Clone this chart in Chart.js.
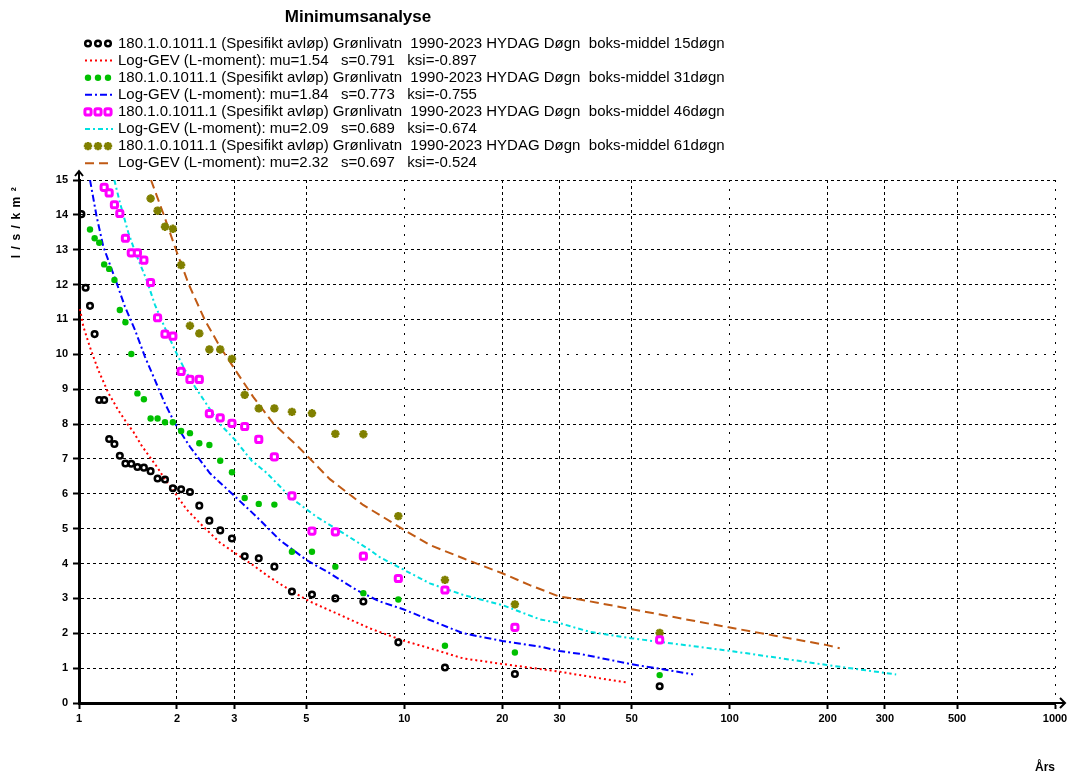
<!DOCTYPE html>
<html lang="no">
<head>
<meta charset="UTF-8">
<title>Minimumsanalyse</title>
<style>
  body { margin: 0; background: #fff; }
  #wrap { width: 1072px; height: 779px; }
</style>
</head>
<body>
<div id="wrap"><canvas id="chart" width="1072" height="779"></canvas></div>
<script src="https://cdn.jsdelivr.net/npm/chart.js"></script>
<script>
// returperiode (år) for de observerte minimumsverdiene, minst til størst
const returnPeriods = [1.017, 1.048, 1.081, 1.117, 1.154, 1.195, 1.238, 1.285, 1.335, 1.389, 1.448, 1.512,
  1.583, 1.660, 1.744, 1.838, 1.943, 2.060, 2.193, 2.343, 2.516, 2.717, 2.952, 3.231, 3.569, 3.986,
  4.513, 5.201, 6.137, 7.483, 9.584, 13.33, 21.87, 60.93];

// observerte verdier, l/s/km2 (null = utenfor figuren)
const obs15 = [14.02, 11.91, 11.39, 10.58, 8.69, 8.69, 7.57, 7.43, 7.09, 6.87, 6.86, 6.77, 6.75, 6.65,
  6.44, 6.41, 6.16, 6.13, 6.05, 5.66, 5.23, 4.95, 4.72, 4.21, 4.15, 3.91, 3.20, 3.11, 3.00, 2.91,
  1.74, 1.02, 0.83, 0.48];
const obs31 = [null, null, 13.58, 13.33, 13.20, 12.58, 12.45, 12.13, 11.27, 10.92, 10.01, 8.88, 8.71,
  8.16, 8.16, 8.05, 8.05, 7.80, 7.74, 7.45, 7.40, 6.95, 6.62, 5.88, 5.71, 5.69, 4.34, 4.34, 3.91,
  3.15, 2.97, 1.64, 1.45, 0.80];
const obs46 = [null, null, null, null, null, 14.79, 14.63, 14.29, 14.04, 13.33, 12.91, 12.91, 12.70,
  12.06, 11.05, 10.58, 10.52, 9.51, 9.28, 9.28, 8.30, 8.18, 8.02, 7.93, 7.56, 7.06, 5.94, 4.93, 4.91,
  4.21, 3.57, 3.24, 2.17, 1.81];
const obs61 = [null, null, null, null, null, null, null, null, null, null, null, null, null, 14.47,
  14.12, 13.66, 13.60, 12.56, 10.82, 10.60, 10.14, 10.14, 9.87, 8.84, 8.45, 8.45, 8.35, 8.31, 7.72,
  7.71, 5.36, 3.53, 2.83, 2.01];

// tilpassede Log-GEV kurver
const fit15T = [1.007, 1.031, 1.081, 1.146, 1.23, 1.32, 1.417, 1.469, 1.558, 1.752, 1.838, 1.927, 2.142,
  2.409, 2.712, 3.052, 3.431, 3.862, 4.448, 5.126, 6.19, 7.834, 9.92, 11.98, 15.16, 20, 30, 34.6, 48.2];
const fit15Q = [11.3, 10.8, 10.2, 9.55, 8.9, 8.4, 7.97, 7.78, 7.38, 6.72, 6.41, 6.16, 5.55,
  5.06, 4.6, 4.27, 3.95, 3.6, 3.24, 2.91, 2.57, 2.14, 1.79, 1.57, 1.28, 1.12, 0.90, 0.80, 0.59];

const fit31T = [1.081, 1.133, 1.188, 1.306, 1.384, 1.486, 1.595, 1.712, 1.837, 1.972, 2.193, 2.526,
  2.979, 3.516, 4.145, 5.006, 5.903, 7.13, 8.41, 9.92, 11.98, 15.16, 20, 26.7, 30, 34.6, 50, 59.5, 77.2];
const fit31Q = [15.0, 13.95, 13.09, 12.04, 11.37, 10.70, 9.93, 9.26, 8.59, 8.02, 7.35, 6.59,
  5.97, 5.34, 4.67, 4.10, 3.72, 3.24, 2.91, 2.69, 2.38, 2.00, 1.78, 1.60, 1.49, 1.41, 1.11, 1.00, 0.82];

const fit46T = [1.284, 1.336, 1.417, 1.486, 1.614, 1.712, 1.837, 1.972, 2.117, 2.272, 2.496, 2.712,
  3.016, 3.197, 3.394, 3.773, 4.503, 5.374, 6.486, 7.834, 8.41, 9.92, 11.98, 15.16, 20, 26.1, 30,
  37.2, 49.6, 99.3, 199, 325];
const fit46Q = [15.0, 14.35, 13.5, 12.95, 12.13, 11.42, 10.76, 10.12, 9.55, 9.07, 8.5, 8.0,
  7.55, 7.25, 6.95, 6.6, 5.87, 5.34, 4.87, 4.39, 4.18, 3.83, 3.43, 3.10, 2.81, 2.40, 2.29,
  2.04, 1.86, 1.50, 1.09, 0.82];

const fit61T = [1.664, 1.816, 1.982, 2.178, 2.438, 2.712, 2.979, 3.431, 3.954, 4.718, 5.903, 7.469,
  8.41, 9.92, 11.98, 15.16, 20, 24.3, 30, 34.6, 50, 99.3, 199, 217.9];
const fit61Q = [15.0, 14.04, 13.02, 11.99, 10.98, 10.22, 9.64, 8.78, 8.02, 7.35, 6.42, 5.68,
  5.39, 4.98, 4.53, 4.15, 3.72, 3.38, 3.05, 2.97, 2.69, 2.17, 1.66, 1.57];

const xTicks = [1, 2, 3, 5, 10, 20, 30, 50, 100, 200, 300, 500, 1000];
const yMax = 15;

const seriesName = '180.1.0.1011.1 (Spesifikt avløp) Grønlivatn  1990-2023 HYDAG Døgn  boks-middel ';
const fitName = (mu, s, ksi) => 'Log-GEV (L-moment): mu=' + mu + '   s=' + s + '   ksi=' + ksi;

function toPoints(xs, ys) {
  return xs.map((x, i) => ({ x: x, y: ys[i] })).filter(p => p.y !== null);
}

function obsSet(label, values, style, radius, border, color, fillColor) {
  return {
    label: label, data: toPoints(returnPeriods, values), showLine: false,
    pointStyle: style, pointRadius: radius, pointHoverRadius: radius, pointBorderWidth: border,
    pointBorderColor: color, pointBackgroundColor: fillColor
  };
}

function fitSet(label, xs, ys, color, dash) {
  return {
    label: label, data: toPoints(xs, ys), showLine: true, borderColor: color, borderWidth: 2,
    borderDash: dash, pointRadius: 0, pointHoverRadius: 0, tension: 0, fill: false
  };
}

const font = '"Liberation Sans", Arial, sans-serif';
Chart.defaults.font.family = font;

const isDecade = v => v === 10 || v === 100 || v === 1000;

// tittel, forklaring, y-tittel og piler
const extras = {
  id: 'extras',
  afterDraw(chart) {
    const ctx = chart.ctx;
    const a = chart.chartArea;
    ctx.save();
    ctx.fillStyle = '#000';
    ctx.textBaseline = 'middle';
    ctx.font = 'bold 17px ' + font;
    ctx.textAlign = 'center';
    ctx.fillText('Minimumsanalyse', 358, 17);

    ctx.font = '15px ' + font;
    ctx.textAlign = 'left';
    chart.data.datasets.forEach((ds, i) => {
      const y = 43.5 + i * 17.1;
      ctx.save();
      if (ds.showLine) {
        ctx.strokeStyle = ds.borderColor;
        ctx.lineWidth = 2;
        ctx.setLineDash(ds.borderDash);
        ctx.beginPath();
        ctx.moveTo(85, y);
        ctx.lineTo(113, y);
        ctx.stroke();
      } else {
        ctx.strokeStyle = ds.pointBorderColor;
        ctx.fillStyle = ds.pointBackgroundColor;
        ctx.lineWidth = ds.pointBorderWidth;
        [88, 98, 108].forEach(x => {
          Chart.helpers.drawPoint(ctx, {
            pointStyle: ds.pointStyle, radius: ds.pointRadius,
            borderWidth: ds.pointBorderWidth, rotation: 0
          }, x, y);
        });
      }
      ctx.restore();
      ctx.fillText(ds.label, 118, y);
    });

    // y-aksens tittel
    ctx.save();
    ctx.translate(17, 220);
    ctx.rotate(-Math.PI / 2);
    ctx.font = 'bold 12px ' + font;
    ctx.textAlign = 'center';
    ctx.letterSpacing = '5.5px';
    ctx.fillText('l/s/km²', 0, 0);
    ctx.restore();

    // piler
    ctx.strokeStyle = '#000';
    ctx.lineWidth = 2;
    ctx.beginPath();
    ctx.moveTo(a.left, a.top);
    ctx.lineTo(a.left, a.top - 9);
    ctx.moveTo(a.left - 4, a.top - 4);
    ctx.lineTo(a.left, a.top - 9);
    ctx.lineTo(a.left + 4, a.top - 4);
    ctx.moveTo(a.right, a.bottom);
    ctx.lineTo(a.right + 10, a.bottom);
    ctx.moveTo(a.right + 5, a.bottom - 5);
    ctx.lineTo(a.right + 10, a.bottom);
    ctx.lineTo(a.right + 5, a.bottom + 5);
    ctx.stroke();
    ctx.restore();
  }
};

const tickFont = { family: font, size: 11, weight: 'bold' };

new Chart(document.getElementById('chart'), {
  type: 'scatter',
  data: {
    datasets: [
      obsSet(seriesName + '15døgn', obs15, 'circle', 2.8, 2.5, '#000000', 'rgba(0,0,0,0)'),
      fitSet(fitName('1.54', '0.791', '-0.897'), fit15T, fit15Q, '#ff0000', [2, 3]),
      obsSet(seriesName + '31døgn', obs31, 'circle', 3.2, 0, '#00c000', '#00c000'),
      fitSet(fitName('1.84', '0.773', '-0.755'), fit31T, fit31Q, '#0000ff', [7, 3, 2, 3]),
      obsSet(seriesName + '46døgn', obs46, 'rectRounded', 3.6, 3, '#ff00ff', '#ffffff'),
      fitSet(fitName('2.09', '0.689', '-0.674'), fit46T, fit46Q, '#00e0e0', [5, 3, 2, 3]),
      obsSet(seriesName + '61døgn', obs61, 'star', 4.2, 2.5, '#808000', '#808000'),
      fitSet(fitName('2.32', '0.697', '-0.524'), fit61T, fit61Q, '#c05a14', [9, 5])
    ]
  },
  options: {
    responsive: false,
    animation: false,
    layout: { padding: { top: 180, right: 17, bottom: 0, left: 0 } },
    plugins: {
      legend: { display: false },
      title: { display: false },
      tooltip: { enabled: false }
    },
    scales: {
      x: {
        type: 'logarithmic',
        min: 1,
        max: 1000,
        afterBuildTicks: s => { s.ticks = xTicks.map(v => ({ value: v })); },
        afterFit: s => { s.height = 76; },
        ticks: {
          autoSkip: false, maxRotation: 0, padding: 3, color: '#000', font: tickFont,
          callback: v => String(v)
        },
        grid: { color: '#000', lineWidth: 1, tickLength: 6, tickColor: '#000', tickWidth: 2 },
        border: {
          color: '#000', width: 3,
          dash: c => (c.tick && isDecade(c.tick.value)) ? [2, 7] : [3, 3]
        },
        title: {
          display: true, text: 'Års', align: 'end', color: '#000',
          font: { family: font, size: 12, weight: 'bold' }, padding: { top: 0, bottom: 4 }
        }
      },
      y: {
        min: 0,
        max: yMax,
        afterFit: s => { s.width = 79; },
        ticks: { stepSize: 1, padding: 5, color: '#000', font: tickFont },
        grid: { color: '#000', lineWidth: 1, tickLength: 6, tickColor: '#000', tickWidth: 2 },
        border: {
          color: '#000', width: 3,
          dash: c => (c.tick && c.tick.value === 10) ? [2, 7] : [3, 3]
        }
      }
    }
  },
  plugins: [extras]
});
</script>
</body>
</html>
